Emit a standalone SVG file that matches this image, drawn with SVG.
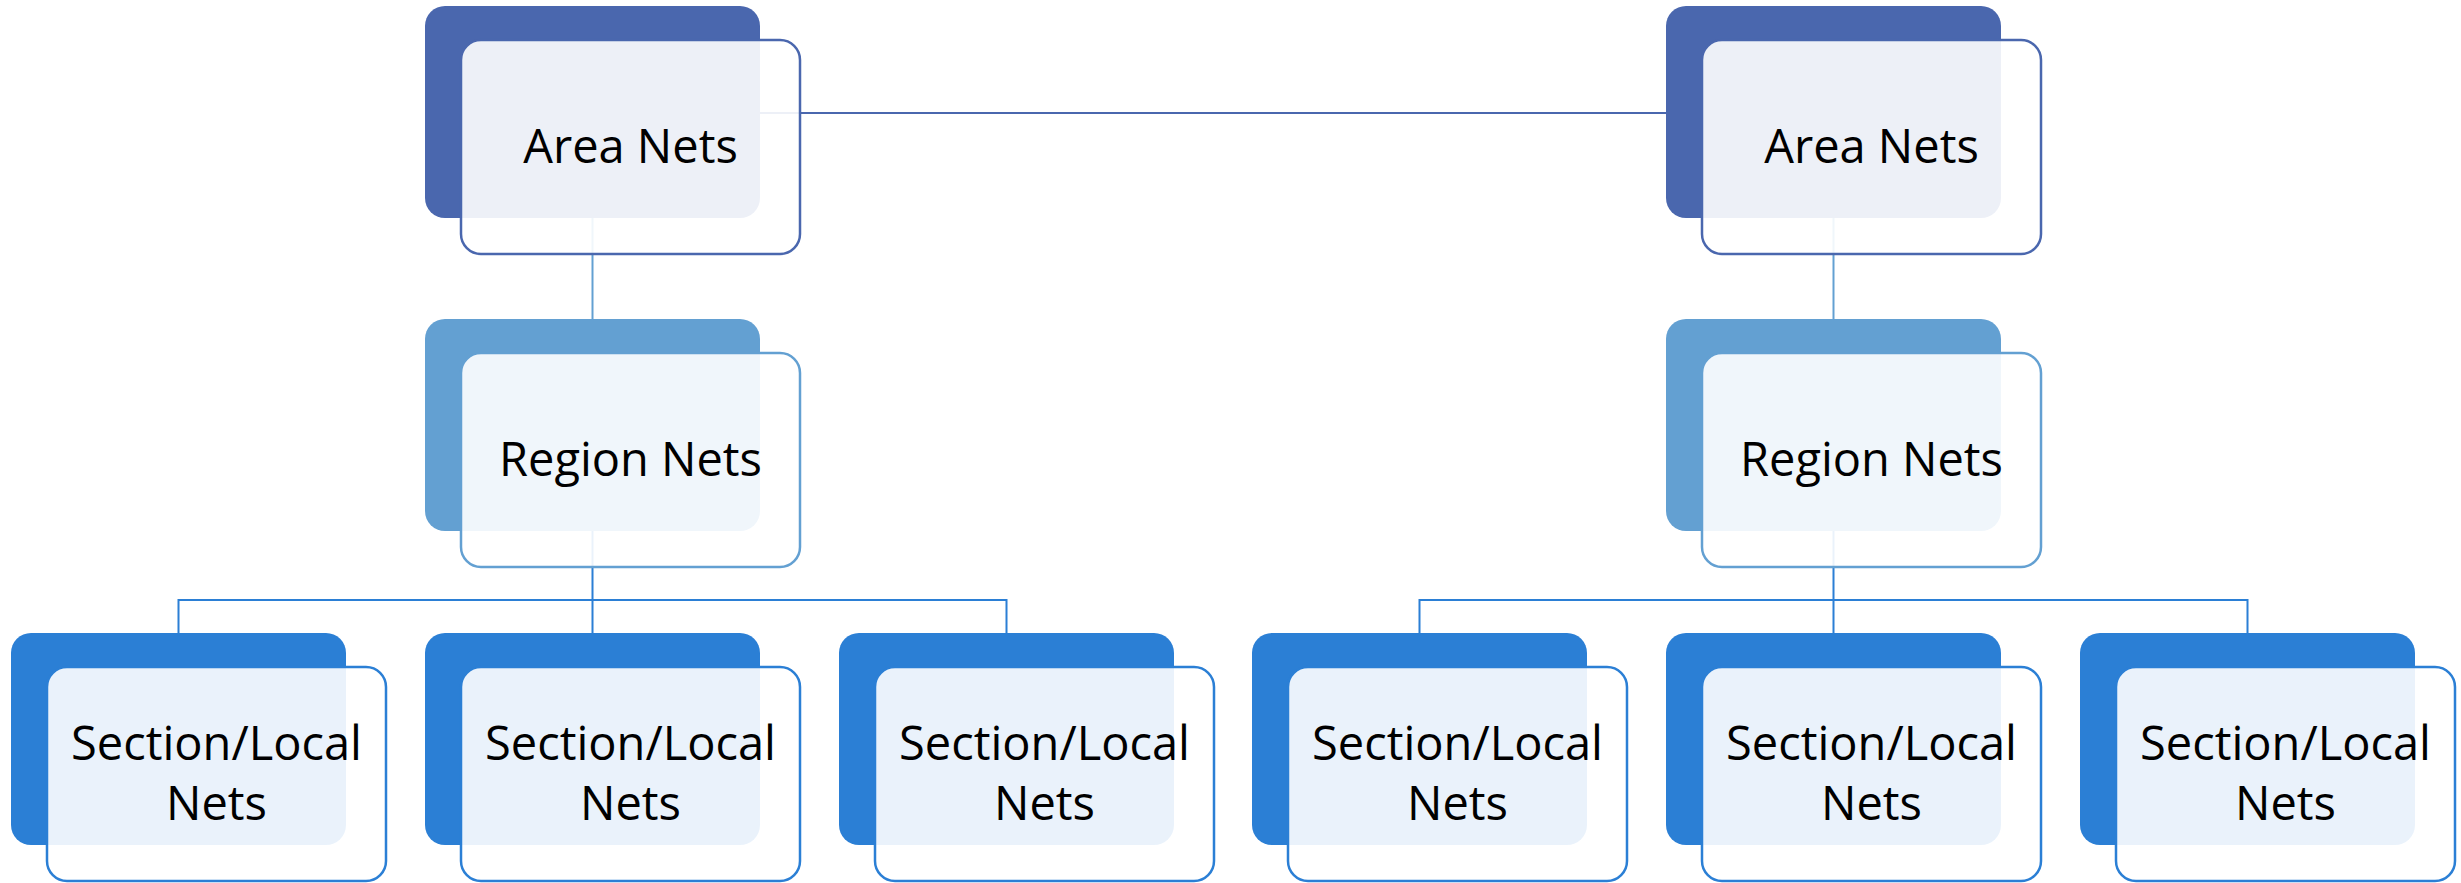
<svg xmlns="http://www.w3.org/2000/svg" width="2461" height="883" viewBox="0 0 2461 883">
<style>
.bg{fill:#ffffff}
.back{stroke:none}
.front{fill:#ffffff;fill-opacity:0.9;stroke-width:2.5}
.area .back{fill:#4A67AE}.area .front{stroke:#4A67AE}
.region .back{fill:#63A0D2}.region .front{stroke:#63A0D2}
.section .back{fill:#2B7FD5}.section .front{stroke:#2B7FD5}
text{font-family:"Open Sans","Liberation Sans",sans-serif;font-size:47px;fill:#000000;text-anchor:middle}
.conn{fill:none;stroke-width:2}
.c-area{stroke:#4A67AE}
.c-region{stroke:#63A0D2}
.c-section{stroke:#2B7FD5}
</style>
<rect class="bg" x="0" y="0" width="2461" height="883"/>
<g id="connectors">
<path class="conn c-area" d="M760,113 H1666"/>
<path class="conn c-region" d="M592.5,218 V319"/>
<path class="conn c-region" d="M1833.5,218 V319"/>
<path class="conn c-section" d="M592.5,531 V633 M178.5,633 V600 H1006.5 V633"/>
<path class="conn c-section" d="M1833.5,531 V633 M1419.5,633 V600 H2247.5 V633"/>
</g>
<g id="area-left" class="area">
<rect class="back" x="425" y="6" width="335" height="212" rx="20"/>
<rect class="front" x="461" y="40" width="339" height="214" rx="20"/>
<text x="630.5" y="163">Area Nets</text>
</g>
<g id="area-right" class="area">
<rect class="back" x="1666" y="6" width="335" height="212" rx="20"/>
<rect class="front" x="1702" y="40" width="339" height="214" rx="20"/>
<text x="1871.5" y="163">Area Nets</text>
</g>
<g id="region-left" class="region">
<rect class="back" x="425" y="319" width="335" height="212" rx="20"/>
<rect class="front" x="461" y="353" width="339" height="214" rx="20"/>
<text x="630.5" y="476">Region Nets</text>
</g>
<g id="region-right" class="region">
<rect class="back" x="1666" y="319" width="335" height="212" rx="20"/>
<rect class="front" x="1702" y="353" width="339" height="214" rx="20"/>
<text x="1871.5" y="476">Region Nets</text>
</g>
<g id="section-l1" class="section">
<rect class="back" x="11" y="633" width="335" height="212" rx="20"/>
<rect class="front" x="47" y="667" width="339" height="214" rx="20"/>
<text x="216.5" y="760">Section/Local</text>
<text x="216.5" y="820">Nets</text>
</g>
<g id="section-l2" class="section">
<rect class="back" x="425" y="633" width="335" height="212" rx="20"/>
<rect class="front" x="461" y="667" width="339" height="214" rx="20"/>
<text x="630.5" y="760">Section/Local</text>
<text x="630.5" y="820">Nets</text>
</g>
<g id="section-l3" class="section">
<rect class="back" x="839" y="633" width="335" height="212" rx="20"/>
<rect class="front" x="875" y="667" width="339" height="214" rx="20"/>
<text x="1044.5" y="760">Section/Local</text>
<text x="1044.5" y="820">Nets</text>
</g>
<g id="section-r1" class="section">
<rect class="back" x="1252" y="633" width="335" height="212" rx="20"/>
<rect class="front" x="1288" y="667" width="339" height="214" rx="20"/>
<text x="1457.5" y="760">Section/Local</text>
<text x="1457.5" y="820">Nets</text>
</g>
<g id="section-r2" class="section">
<rect class="back" x="1666" y="633" width="335" height="212" rx="20"/>
<rect class="front" x="1702" y="667" width="339" height="214" rx="20"/>
<text x="1871.5" y="760">Section/Local</text>
<text x="1871.5" y="820">Nets</text>
</g>
<g id="section-r3" class="section">
<rect class="back" x="2080" y="633" width="335" height="212" rx="20"/>
<rect class="front" x="2116" y="667" width="339" height="214" rx="20"/>
<text x="2285.5" y="760">Section/Local</text>
<text x="2285.5" y="820">Nets</text>
</g>
</svg>
